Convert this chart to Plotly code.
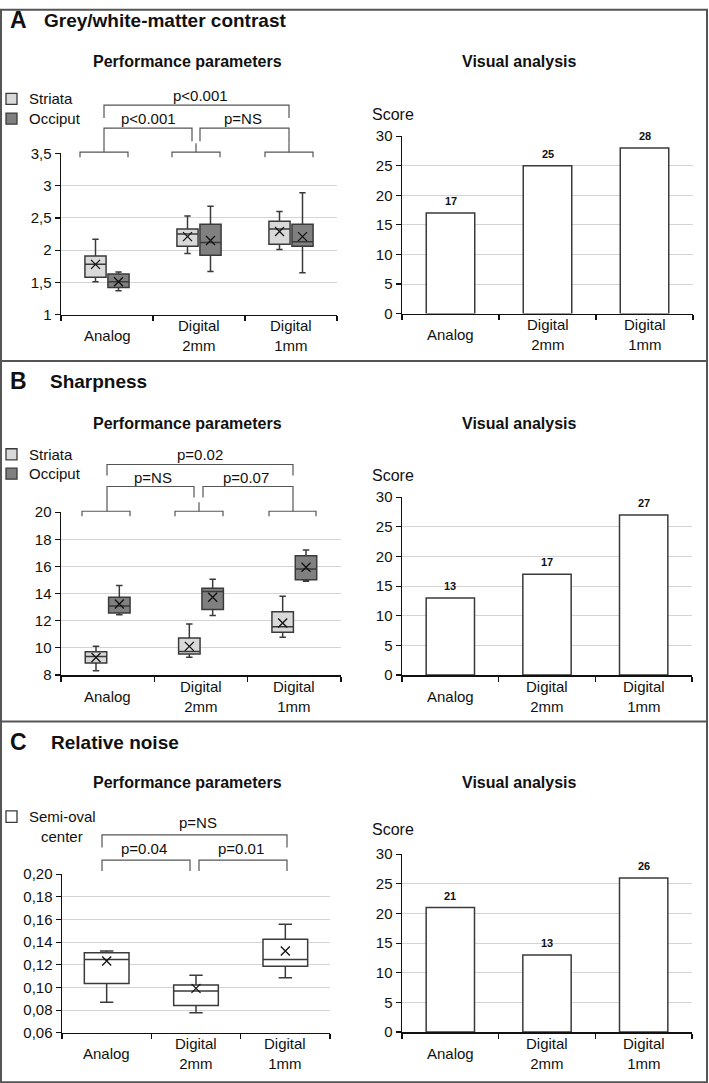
import plotly.graph_objects as go

W = 709
H = 1093          # figure height in page pixels
Y_OFF = 9.0       # measured vertical offset/scale of the photographed page
Y_SCALE = 0.9834
FONT = "Liberation Sans, Arial, sans-serif"
INK = "#111111"
BOXLINE = "#3a3a3a"
LIGHT = "#d9d9d9"
DARK = "#808080"
GRID = "#d4d4d4"

# ---------------- data ----------------
categories = ["Analog", "Digital<br>2mm", "Digital<br>1mm"]

# Panel A: grey/white-matter contrast
a_striata_low = [1.51, 1.95, 2.01]
a_striata_q1 = [1.58, 2.06, 2.09]
a_striata_med = [1.78, 2.25, 2.33]
a_striata_q3 = [1.91, 2.33, 2.45]
a_striata_high = [2.17, 2.53, 2.60]
a_striata_mean = [1.78, 2.21, 2.29]
a_occiput_low = [1.37, 1.67, 1.65]
a_occiput_q1 = [1.42, 1.92, 2.06]
a_occiput_med = [1.51, 2.12, 2.13]
a_occiput_q3 = [1.63, 2.40, 2.40]
a_occiput_high = [1.66, 2.68, 2.89]
a_occiput_mean = [1.51, 2.15, 2.21]
a_scores = [17, 25, 28]
a_pvalues = ["p<0.001", "p=NS", "p<0.001"]

# Panel B: sharpness
b_striata_low = [8.32, 9.30, 10.78]
b_striata_q1 = [8.88, 9.55, 11.15]
b_striata_med = [9.37, 9.74, 11.56]
b_striata_q3 = [9.72, 10.73, 12.67]
b_striata_high = [10.12, 11.76, 13.80]
b_striata_mean = [9.29, 10.11, 11.83]
b_occiput_low = [12.45, 12.38, 14.91]
b_occiput_q1 = [12.57, 12.82, 15.03]
b_occiput_med = [13.09, 14.15, 15.82]
b_occiput_q3 = [13.73, 14.39, 16.80]
b_occiput_high = [14.59, 15.06, 17.22]
b_occiput_mean = [13.24, 13.73, 15.94]
b_scores = [13, 17, 27]
b_pvalues = ["p=NS", "p=0.07", "p=0.02"]

# Panel C: relative noise (semi-oval center)
c_low = [0.0869, 0.0777, 0.1086]
c_q1 = [0.1036, 0.0842, 0.1187]
c_med = [0.1248, 0.0969, 0.1248]
c_q3 = [0.1307, 0.1022, 0.1425]
c_high = [0.1322, 0.1107, 0.1558]
c_mean = [0.1234, 0.0992, 0.1322]
c_scores = [21, 13, 26]
c_pvalues = ["p=0.04", "p=0.01", "p=NS"]

positions = [0, 1, 2]


def px(x):
    return x / W


def py(y):
    page = (y - Y_OFF) / Y_SCALE
    return 1 - page / H


fig = go.Figure()
ann = []


def add_box(ax, pos, low, q1, med, q3, high, mean, fill, width):
    xa = "x" if ax == 1 else f"x{ax}"
    ya = "y" if ax == 1 else f"y{ax}"
    fig.add_trace(go.Box(
        x=pos, q1=q1, median=med, q3=q3, lowerfence=low, upperfence=high,
        orientation="v", width=width, whiskerwidth=0.3, boxpoints=False,
        fillcolor=fill, line=dict(color=BOXLINE, width=1.5),
        xaxis=xa, yaxis=ya, showlegend=False, hoverinfo="skip"))
    fig.add_trace(go.Scatter(
        x=pos, y=mean, mode="markers",
        marker=dict(symbol="x-thin", size=9, color=INK, line=dict(width=1.3, color=INK)),
        xaxis=xa, yaxis=ya, showlegend=False, hoverinfo="skip", cliponaxis=False))


def add_bars(ax, scores):
    xa = f"x{ax}"
    ya = f"y{ax}"
    fig.add_trace(go.Bar(
        x=positions, y=scores, width=0.5,
        marker=dict(color="white", line=dict(color=BOXLINE, width=1.5)),
        xaxis=xa, yaxis=ya, showlegend=False, hoverinfo="skip"))
    for p, s in zip(positions, scores):
        ann.append(dict(x=p, y=s, xref=xa, yref=ya, text=f"<b>{s}</b>",
                        showarrow=False, yanchor="middle", yshift=12,
                        font=dict(size=11, color=INK, family=FONT)))


off = 0.125
sp = [p - off for p in positions]
op = [p + off for p in positions]

add_box(1, sp, a_striata_low, a_striata_q1, a_striata_med, a_striata_q3, a_striata_high, a_striata_mean, LIGHT, 0.23)
add_box(1, op, a_occiput_low, a_occiput_q1, a_occiput_med, a_occiput_q3, a_occiput_high, a_occiput_mean, DARK, 0.23)
add_bars(2, a_scores)
add_box(3, sp, b_striata_low, b_striata_q1, b_striata_med, b_striata_q3, b_striata_high, b_striata_mean, LIGHT, 0.23)
add_box(3, op, b_occiput_low, b_occiput_q1, b_occiput_med, b_occiput_q3, b_occiput_high, b_occiput_mean, DARK, 0.23)
add_bars(4, b_scores)
add_box(5, positions, c_low, c_q1, c_med, c_q3, c_high, c_mean, "white", 0.5)
add_bars(6, c_scores)

# ---------------- axes ----------------
# (x0, x1, ytop, ybottom) in pixels of the reference picture
frames = {
    1: (61, 337, 153.3, 314.3),
    2: (402, 693, 136, 313.3),
    3: (61, 341, 511.7, 674.3),
    4: (402, 692, 496.7, 674.3),
    5: (62, 330, 873.3, 1031.7),
    6: (402, 692, 853.3, 1031),
}
yspecs = {
    1: dict(range=[1, 3.5], dtick=0.5, tick0=1),
    2: dict(range=[0, 30], dtick=5, tick0=0),
    3: dict(range=[8, 20], dtick=2, tick0=8),
    4: dict(range=[0, 30], dtick=5, tick0=0),
    5: dict(range=[0.06, 0.20], dtick=0.02, tick0=0.06, tickformat=".2f"),
    6: dict(range=[0, 30], dtick=5, tick0=0),
}

layout_axes = {}
for i, (x0, x1, yt, yb) in frames.items():
    sfx = "" if i == 1 else str(i)
    layout_axes[f"xaxis{sfx}"] = dict(
        domain=[px(x0), px(x1)], range=[-0.5, 2.5], anchor=f"y{sfx}",
        showgrid=False, zeroline=False, showline=True, linecolor=INK, linewidth=1.5,
        tickmode="array", tickvals=[-0.5, 0.5, 1.5, 2.5], ticktext=["", "", "", ""],
        ticks="outside", ticklen=5, tickwidth=1.2, tickcolor=INK, fixedrange=True)
    layout_axes[f"yaxis{sfx}"] = dict(
        domain=[py(yb), py(yt)], anchor=f"x{sfx}",
        showgrid=True, gridcolor=GRID, gridwidth=1, zeroline=False,
        showline=True, linecolor=INK, linewidth=1.5,
        ticks="outside", ticklen=5, tickwidth=1.2, tickcolor=INK,
        tickfont=dict(size=15, color=INK, family=FONT), fixedrange=True,
        **yspecs[i])

# ---------------- annotations ----------------


def text(x, y, s, size=15, bold=False, xanchor="center", xref="paper"):
    ann.append(dict(
        x=x if xref != "paper" else px(x), y=py(y), xref=xref, yref="paper",
        text=f"<b>{s}</b>" if bold else s, showarrow=False,
        xanchor=xanchor, yanchor="middle",
        font=dict(size=size, color=INK, family=FONT)))


# panel titles
for letter, title, y, tx in [("A", "Grey/white-matter contrast", 20, 42),
                             ("B", "Sharpness", 380.7, 48),
                             ("C", "Relative noise", 741.7, 49)]:
    text(18.5, y, letter, size=23, bold=True)
    text(tx, y, title, size=19, bold=True, xanchor="left")

for y in [61.5, 423.5, 782]:
    text(188, y, "Performance parameters", size=16, bold=True)
    text(519.7, y, "Visual analysis", size=16, bold=True)

for y in [114, 475, 828.3]:
    text(393, y, "Score", size=16)

# category labels under each subplot
for i, (x0, x1, yt, yb) in frames.items():
    sfx = "" if i == 1 else str(i)
    for p, c in zip(positions, categories):
        text(p, yb + 21, c, size=15, xref=f"x{sfx}")

# legends
text(27, 98.7, "Striata", xanchor="left")
text(27, 118.5, "Occiput", xanchor="left")
text(27, 453.7, "Striata", xanchor="left")
text(27, 473, "Occiput", xanchor="left")
text(27, 815.5, "Semi-oval", xanchor="left")
text(62, 836, "center")

# p-value labels
for (labels, coords) in [
        (a_pvalues, [(148, 118), (243, 118), (200, 95)]),
        (b_pvalues, [(153, 476.7), (246, 476.7), (200, 454)]),
        (c_pvalues, [(144, 847.3), (241, 847.3), (198, 821.7)])]:
    for s, (x, y) in zip(labels, coords):
        text(x, y, s, size=15)

# ---------------- shapes ----------------
shapes = []
BR = "#555555"


def path(points, color=BR, width=1.2):
    d = "M " + " L ".join(f"{px(x):.5f},{py(y):.5f}" for x, y in points)
    shapes.append(dict(type="path", path=d, xref="paper", yref="paper",
                       line=dict(color=color, width=width)))


# panel A brackets
for xl, xr, xc in [(80, 128, 104), (172, 220, 196), (265, 313, 289)]:
    path([(xl, 157), (xl, 152), (xr, 152), (xr, 157)])
    path([(xc, 152), (xc, 143)])
path([(104, 143), (104, 128), (192, 128), (192, 141)])
path([(200, 141), (200, 128), (289, 128), (289, 143)])
path([(104, 118), (104, 105), (289, 105), (289, 118)])

# panel B brackets
for xl, xr, xc in [(82, 130, 107), (175, 223, 199), (269, 316, 293)]:
    path([(xl, 515.7), (xl, 510.7), (xr, 510.7), (xr, 515.7)])
    path([(xc, 510.7), (xc, 501.7)])
path([(107, 501.7), (107, 486), (194, 486), (194, 497)])
path([(203, 497), (203, 486), (293, 486), (293, 501.7)])
path([(107, 475), (107, 464), (293, 464), (293, 475)])

# panel C brackets
path([(102, 870), (102, 859.3), (190, 859.3), (190, 870)])
path([(199, 870), (199, 859.3), (287, 859.3), (287, 870)])
path([(102, 846.7), (102, 834), (287, 834), (287, 846.7)])

# legend swatches
for (y0, y1, fill) in [(93.3, 104.3, LIGHT), (113, 124, DARK),
                       (448.3, 459.3, LIGHT), (467.7, 478.7, DARK),
                       (810, 821.5, "white")]:
    shapes.append(dict(type="rect", xref="paper", yref="paper",
                       x0=px(6), x1=px(17), y0=py(y1), y1=py(y0),
                       fillcolor=fill, line=dict(color=BOXLINE, width=1.3)))

# panel frames
top_edge = min(py(1), 1 - 0.8 / H)
shapes.append(dict(type="rect", xref="paper", yref="paper",
                   x0=px(1), x1=px(707), y0=py(1081), y1=top_edge,
                   line=dict(color="#555555", width=2)))
for y in [360.7, 720.7]:
    shapes.append(dict(type="line", xref="paper", yref="paper",
                       x0=px(1), x1=px(707), y0=py(y), y1=py(y),
                       line=dict(color="#555555", width=2)))

fig.update_layout(
    width=W, height=H, autosize=False,
    margin=dict(l=0, r=0, t=0, b=0, pad=0),
    paper_bgcolor="white", plot_bgcolor="white",
    font=dict(family=FONT, size=15, color=INK),
    separators=", ",
    showlegend=False,
    annotations=ann, shapes=shapes,
    **layout_axes)

fig.write_html(
    "out.html",
    config={"displayModeBar": False, "staticPlot": True},
    post_script=(
        "document.documentElement.style.margin='0';"
        "document.body.style.margin='0';document.body.style.padding='0';"
        "var g=document.getElementById('{plot_id}');"
        "g.style.position='absolute';g.style.top='0px';g.style.left='0px';"))
